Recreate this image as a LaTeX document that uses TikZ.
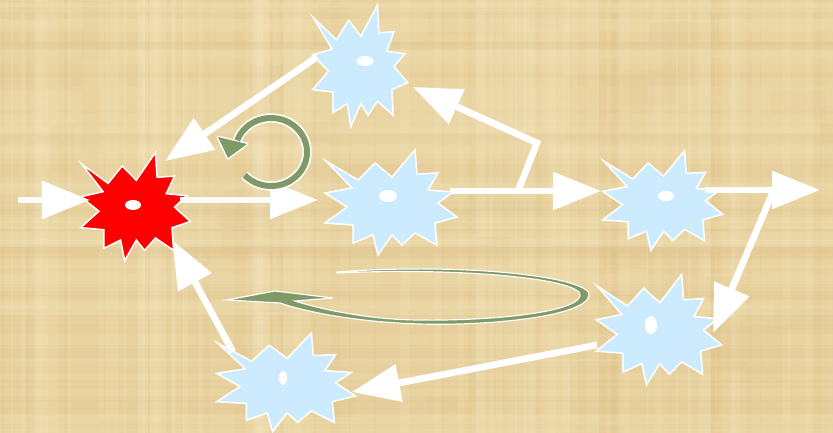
\documentclass[tikz,border=0pt]{standalone}
\usetikzlibrary{arrows.meta}
\definecolor{parch}{HTML}{E9D3A0}
\definecolor{parchL}{HTML}{F4E4BA}
\definecolor{parchD}{HTML}{D4B57A}
\definecolor{burstblue}{HTML}{CCEBFF}
\definecolor{burstred}{HTML}{FF0000}
\definecolor{swoosh}{HTML}{7F9A66}
\begin{document}
\begin{tikzpicture}[x=0.03cm,y=-0.03cm,
  burst/.pic={\path[pic actions] (-62,-39) -- (-30,-20) -- (-13,-37) -- (4,-23) -- (27,-50) -- (29,-26) -- (50,-27) -- (40,-10) -- (65,-8) -- (50,3) -- (69,17) -- (47,23) -- (49,45) -- (27,33) -- (14,45) -- (4,35) -- (-10,55) -- (-15,35) -- (-35,43) -- (-35,25) -- (-63,23) -- (-41,7) -- (-63,-7) -- (-36,-12) -- cycle;},
  blueburst/.style={fill=burstblue, draw=white, line width=0.045cm, line join=miter},
  redburst/.style={fill=burstred, draw=white, line width=0.045cm, line join=miter},
  dot/.style={fill=white},
  flow/.style={draw=white, line width=0.2cm, line join=miter, -{Triangle[length=1.44cm,width=1.1cm]}}]
\useasboundingbox (0,0) rectangle (833,433);
\clip (0,0) rectangle (833,433);
% parchment background
\fill[parch] (0,0) rectangle (833,433);
\pgfmathsetseed{11}
\foreach \i in {1,...,55}{
  \pgfmathsetmacro\xa{rnd*833}\pgfmathsetmacro\w{2+rnd*22}
  \fill[parchL,opacity=0.25] (\xa,0) rectangle ++(\w,433);}
\foreach \i in {1,...,45}{
  \pgfmathsetmacro\xa{rnd*833}\pgfmathsetmacro\w{1+rnd*10}
  \fill[parchD,opacity=0.12] (\xa,0) rectangle ++(\w,433);}
\foreach \i in {1,...,35}{
  \pgfmathsetmacro\ya{rnd*433}\pgfmathsetmacro\h{1+rnd*12}
  \fill[parchD,opacity=0.1] (0,\ya) rectangle ++(833,\h);}
\foreach \i in {1,...,35}{
  \pgfmathsetmacro\ya{rnd*433}\pgfmathsetmacro\h{2+rnd*16}
  \fill[parchL,opacity=0.18] (0,\ya) rectangle ++(833,\h);}
\foreach \i in {1,...,40}{
  \pgfmathsetmacro\xa{rnd*833}\pgfmathsetmacro\ya{rnd*433}
  \pgfmathsetmacro\w{20+rnd*70}\pgfmathsetmacro\h{15+rnd*50}
  \fill[parchD,opacity=0.07] (\xa,\ya) rectangle ++(\w,\h);}

% star centres
\coordinate (red) at (133,204);
\coordinate (top) at (358,63);
\coordinate (mid) at (388,200);
\coordinate (rgt) at (660,198);
\coordinate (lrt) at (656,327);
\coordinate (bot) at (283,380);

% bursts
\pic[redburst, xscale=0.83, yscale=1.03] (redB) at (red) {burst};
\pic[blueburst, xscale=0.72, yscale=1.16] (topB) at (top) {burst};
\pic[blueburst] (midB) at (mid) {burst};
\pic[blueburst, xscale=0.91, yscale=0.95] (rgtB) at (rgt) {burst};
\pic[blueburst, xscale=0.95, yscale=1.05] (lrtB) at (lrt) {burst};
\pic[blueburst, xscale=1.05, yscale=0.94] (botB) at (bot) {burst};

% dots
\fill[dot] (133,205) ellipse [x radius=8, y radius=5];
\fill[dot] (365,61) ellipse [x radius=8.5, y radius=5];
\fill[dot] (388,196) ellipse [x radius=9, y radius=6];
\fill[dot] (666,196) ellipse [x radius=8, y radius=5];
\fill[dot] (651,325) ellipse [x radius=6, y radius=9];
\fill[dot] (283,378) ellipse [x radius=4, y radius=7];

% connector end points
\coordinate (inA) at (18,200);   \coordinate (redW) at (90,200);
\coordinate (redE) at (180,200); \coordinate (midW) at (318,200);
\coordinate (topW) at (317,57);  \coordinate (redNE) at (165,161);
\coordinate (midE) at (450,191); \coordinate (rgtW) at (601,191);
\coordinate (brA) at (518,191);  \coordinate (brB) at (537,143);
\coordinate (topSE) at (413,87);
\coordinate (rgtE) at (705,190); \coordinate (outE) at (820,190);
\coordinate (brC) at (773,192);  \coordinate (lrtNE) at (713,333);
\coordinate (lrtW) at (597,345); \coordinate (botE) at (352,392);
\coordinate (botN) at (233,352); \coordinate (redSE) at (172,240);

% white arrows
\draw[flow] (inA) -- (redW);
\draw[flow] (redE) -- (midW);
\draw[flow] (topW) -- (redNE);
\draw[flow] (midE) -- (rgtW);
\draw[flow] (brA) -- (brB) -- (topSE);
\draw[flow] (brC) -- (lrtNE);
\draw[flow] (rgtE) -- (outE);
\draw[flow] (lrtW) -- (botE);
\draw[flow] (botN) -- (redSE);

% green circular arrow
\coordinate (cyc) at (271,152);
\coordinate (hdA) at (218,137);
\coordinate (hdB) at (247,144);
\coordinate (hdT) at (228,158);
\draw[white, line width=0.28cm] ([shift={(244.7,175.2)}]0,0) arc[start angle=137, end angle=-160, x radius=36, y radius=34];
\filldraw[fill=white, draw=white, line width=0.09cm, line join=round] (hdA) -- (hdB) -- (hdT) -- cycle;
\draw[swoosh, line width=0.18cm] ([shift={(244.7,175.2)}]0,0) arc[start angle=137, end angle=-160, x radius=36, y radius=34];
\fill[swoosh] (hdA) -- (hdB) -- (hdT) -- cycle;

% green elliptical swoosh arrow
\filldraw[fill=swoosh, draw=white, line width=0.035cm, line join=miter]
  (337,272) .. controls (470,262) and (595,278) .. (589,296)
  .. controls (583,318) and (480,326) .. (420,324)
  .. controls (350,322) and (300,310) .. (280,303)
  -- (227,300) -- (275,291) -- (333,298) -- (295,301)
  .. controls (320,309) and (370,320) .. (420,320)
  .. controls (480,321) and (575,314) .. (580,296)
  .. controls (585,280) and (470,267) .. (337,273) -- cycle;
\end{tikzpicture}
\end{document}
